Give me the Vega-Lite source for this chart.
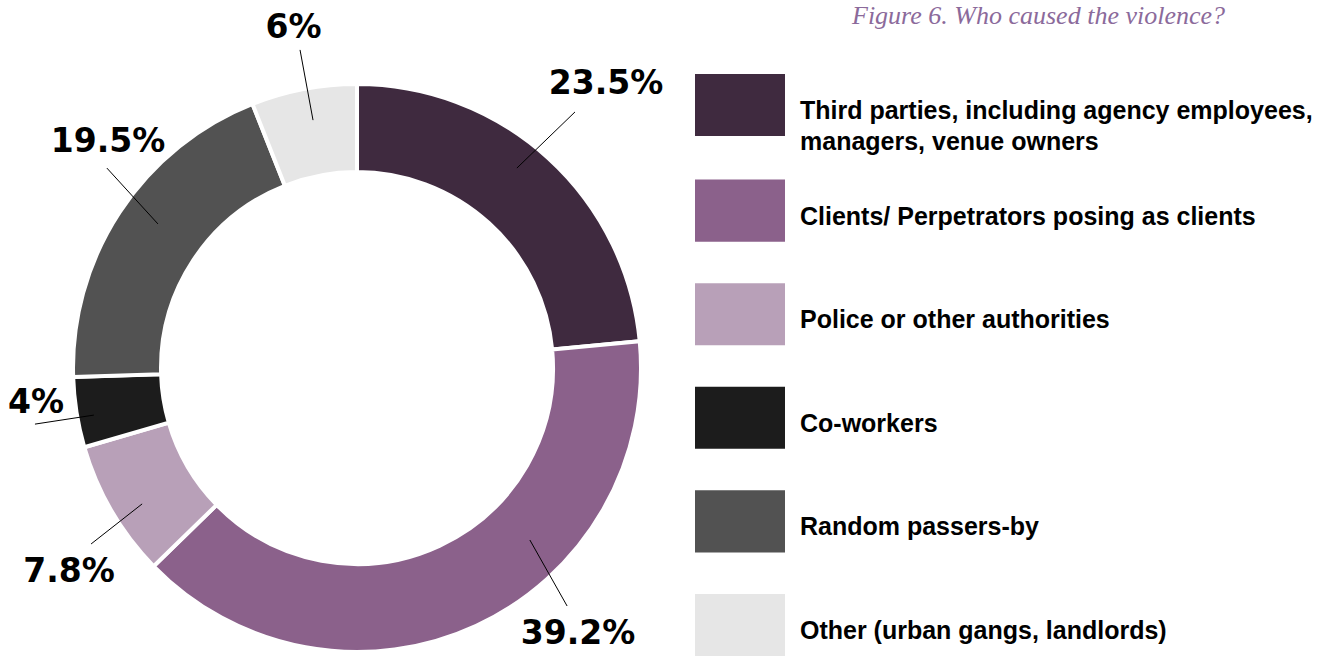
{
  "$schema": "https://vega.github.io/schema/vega-lite/v6.json",
  "width": 1344,
  "height": 628,
  "padding": {"top": 3, "left": 0, "right": 0, "bottom": 0},
  "autosize": {"type": "pad"},
  "background": "white",
  "config": {
    "view": {"stroke": null},
    "style": {"guide-label": {"dy": -6, "lineHeight": 31}}
  },
  "title": {
    "text": "Figure 6. Who caused the violence?",
    "anchor": "start",
    "frame": "group",
    "dx": 852,
    "offset": -38,
    "baseline": "alphabetic",
    "font": "Liberation Serif",
    "fontStyle": "italic",
    "fontWeight": "normal",
    "fontSize": 26,
    "color": "#8b6a9b"
  },
  "datasets": {
    "slices": [
      {"category": "Third parties, including agency employees, managers, venue owners", "share": 23.5, "rank": 1},
      {"category": "Clients/ Perpetrators posing as clients", "share": 39.2, "rank": 2},
      {"category": "Police or other authorities", "share": 7.8, "rank": 3},
      {"category": "Co-workers", "share": 4, "rank": 4},
      {"category": "Random passers-by", "share": 19.5, "rank": 5},
      {"category": "Other (urban gangs, landlords)", "share": 6, "rank": 6}
    ],
    "labels": [
      {"text": "23.5%", "lx": 88.3, "ly": 100.7},
      {"text": "39.2%", "lx": 78.4, "ly": -94.5},
      {"text": "7.8%", "lx": -102.1, "ly": -72.3},
      {"text": "4%", "lx": -113.8, "ly": -12.3},
      {"text": "19.5%", "lx": -88.3, "ly": 80.0},
      {"text": "6%", "lx": -22.5, "ly": 120.5}
    ],
    "leaders": [
      {"x1": 56.7, "y1": 70.9, "x2": 77.3, "y2": 90.8},
      {"x1": 61.3, "y1": -61.0, "x2": 74.5, "y2": -84.4},
      {"x1": -76.2, "y1": -48.2, "x2": -94.3, "y2": -62.4},
      {"x1": -93.3, "y1": -16.7, "x2": -114.2, "y2": -19.9},
      {"x1": -70.6, "y1": 51.1, "x2": -88.7, "y2": 70.9},
      {"x1": -15.6, "y1": 87.9, "x2": -20.2, "y2": 112.8}
    ]
  },
  "layer": [
    {
      "data": {"name": "slices"},
      "mark": {"type": "arc", "outerRadius": 284, "innerRadius": 196, "stroke": "white", "strokeWidth": 4},
      "encoding": {
        "x": {"datum": 0, "type": "quantitative", "scale": {"domain": [-126.6, 350], "nice": false, "zero": false}, "axis": null},
        "y": {"datum": 0, "type": "quantitative", "scale": {"domain": [-102.84, 119.86], "nice": false, "zero": false}, "axis": null},
        "theta": {"field": "share", "type": "quantitative", "stack": true},
        "order": {"field": "rank", "type": "quantitative"},
        "color": {
          "field": "category",
          "type": "nominal",
          "scale": {
            "domain": [
              "Third parties, including agency employees, managers, venue owners",
              "Clients/ Perpetrators posing as clients",
              "Police or other authorities",
              "Co-workers",
              "Random passers-by",
              "Other (urban gangs, landlords)"
            ],
            "range": ["#3f2a3f", "#8b618b", "#b8a0b8", "#1c1c1c", "#525252", "#e6e6e6"]
          },
          "legend": {
            "orient": "none",
            "legendX": 695,
            "legendY": 27,
            "title": null,
            "padding": 0,
            "clipHeight": 96,
            "symbolType": "M-1,-0.69H1V0.69H-1Z",
            "symbolSize": 8100,
            "symbolStrokeWidth": 0,
            "symbolOpacity": 1,
            "labelFont": "Liberation Sans",
            "labelFontWeight": "bold",
            "labelFontSize": 25,
            "labelColor": "#000000",
            "labelLimit": 700,
            "labelOffset": 15,
            "labelBaseline": "top",
            "rowPadding": 7.6,
            "labelExpr": "datum.label == 'Third parties, including agency employees, managers, venue owners' ? ['Third parties, including agency employees,', 'managers, venue owners'] : datum.label"
          }
        }
      }
    },
    {
      "data": {"name": "leaders"},
      "mark": {"type": "rule", "color": "#000000", "strokeWidth": 1},
      "encoding": {
        "x": {"field": "x1", "type": "quantitative", "scale": {"domain": [-126.6, 350], "nice": false, "zero": false}, "axis": null},
        "y": {"field": "y1", "type": "quantitative", "scale": {"domain": [-102.84, 119.86], "nice": false, "zero": false}, "axis": null},
        "x2": {"field": "x2"},
        "y2": {"field": "y2"}
      }
    },
    {
      "data": {"name": "labels"},
      "mark": {"type": "text", "font": "DejaVu Sans", "fontWeight": "bold", "fontSize": 33, "align": "center", "baseline": "middle", "color": "#000000"},
      "encoding": {
        "x": {"field": "lx", "type": "quantitative", "scale": {"domain": [-126.6, 350], "nice": false, "zero": false}, "axis": null},
        "y": {"field": "ly", "type": "quantitative", "scale": {"domain": [-102.84, 119.86], "nice": false, "zero": false}, "axis": null},
        "text": {"field": "text"}
      }
    }
  ]
}
